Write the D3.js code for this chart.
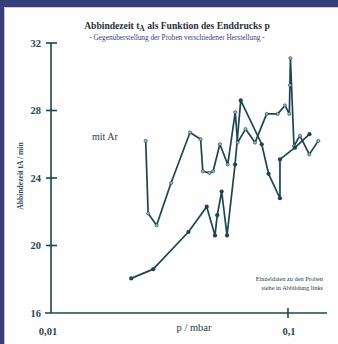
<!DOCTYPE html>
<html><head><meta charset="utf-8">
<script src="https://cdn.jsdelivr.net/npm/d3@7"></script>
<style>html,body{margin:0;padding:0;background:#fff;}svg{display:block;}</style>
</head><body>
<script>
// Data
const pressureAr = [0.0251, 0.0257, 0.0279, 0.0321, 0.0386, 0.0428, 0.0437, 0.0466, 0.0483, 0.0516, 0.0557, 0.0599, 0.0613, 0.0662, 0.0726, 0.0813, 0.0905, 0.0971, 0.1013, 0.1019, 0.1024, 0.1060, 0.1124, 0.1230, 0.1342];
const timeAr = [26.2, 21.9, 21.2, 23.7, 26.7, 26.3, 24.4, 24.3, 24.4, 26.0, 24.8, 27.9, 26.1, 26.9, 26.1, 27.8, 27.8, 28.3, 27.8, 29.5, 31.1, 25.9, 26.5, 25.4, 26.2];
const pressureB = [0.0218, 0.0270, 0.0380, 0.0454, 0.0492, 0.0503, 0.0525, 0.0553, 0.0598, 0.0632, 0.0775, 0.0828, 0.0925, 0.0925, 0.1070, 0.1232];
const timeB = [18.05, 18.6, 20.8, 22.3, 20.6, 21.8, 23.2, 20.6, 24.8, 28.6, 26.0, 24.25, 22.8, 25.1, 25.8, 26.6];
const yTicks = [16, 20, 24, 28, 32];
const xTicks = [0.01, 0.1];
const xTickLabels = ["0,01", "0,1"];

const W = 338, H = 344;
const svg = d3.select("body").append("svg").attr("width", W).attr("height", H);
const ink = "#1f4450";
const serif = "'Liberation Serif','DejaVu Serif',serif";

// frame
svg.append("rect").attr("x",0).attr("y",0).attr("width",W).attr("height",H).attr("fill","#fefefe");
svg.append("rect").attr("x",0).attr("y",0).attr("width",W).attr("height",7).attr("fill","#34407c");
svg.append("rect").attr("x",0).attr("y",0).attr("width",4).attr("height",H).attr("fill","#34407c");
svg.append("line").attr("x1",4.5).attr("x2",4.5).attr("y1",7).attr("y2",H).attr("stroke","#e8b0c0").attr("stroke-width",1);
svg.append("line").attr("x1",4).attr("x2",W).attr("y1",7.5).attr("y2",7.5).attr("stroke","#e8c0cc").attr("stroke-width",1);

const x = d3.scaleLog().domain([0.01, 0.1461]).range([51, 327]);
const y = d3.scaleLinear().domain([16, 32]).range([313, 43]);

// axes
const ax = svg.append("g").attr("stroke", ink).attr("stroke-width", 1.6);
ax.append("line").attr("x1", x(0.01)).attr("x2", x(0.01)).attr("y1", y(32)).attr("y2", y(16));
ax.append("line").attr("x1", 45).attr("x2", x.range()[1]).attr("y1", y(16)).attr("y2", y(16));
ax.selectAll(".yt").data(yTicks.slice(1)).enter().append("line")
  .attr("x1", 46).attr("x2", 57).attr("y1", d => y(d)).attr("y2", d => y(d));
ax.selectAll(".xt").data(xTicks.slice(1)).enter().append("line")
  .attr("x1", d => x(d)).attr("x2", d => x(d)).attr("y1", y(16) - 5).attr("y2", y(16) + 5);

svg.selectAll(".yl").data(yTicks).enter().append("text")
  .attr("x", 41).attr("y", d => y(d) + 3.5).attr("text-anchor", "end")
  .attr("font-family", serif).attr("font-weight", "bold").attr("font-size", 10.5).attr("fill", "#2b4652")
  .text(d => d);
svg.selectAll(".xl").data(xTicks).enter().append("text")
  .attr("x", (d, i) => x(d) + (i === 0 ? -3 : 1)).attr("y", 335).attr("text-anchor", "middle")
  .attr("font-family", serif).attr("font-weight", "bold").attr("font-size", 10.5).attr("fill", "#2b4652")
  .text((d, i) => xTickLabels[i]);

svg.append("text").attr("x", 194).attr("y", 331).attr("text-anchor", "middle")
  .attr("font-family", serif).attr("font-size", 10.5).attr("fill", "#2b3a48").text("p / mbar");

svg.append("text").attr("transform", "translate(23,176) rotate(-90)").attr("text-anchor", "middle")
  .attr("font-family", serif).attr("font-weight", "bold").attr("font-size", 7.6).attr("fill", "#2b4652")
  .text("Abbindezeit tA / min");

// titles
const t = svg.append("text").attr("x", 177).attr("y", 29).attr("text-anchor", "middle")
  .attr("font-family", serif).attr("font-weight", "bold").attr("font-size", 9.6).attr("fill", "#2a2f3c");
t.append("tspan").text("Abbindezeit t");
t.append("tspan").attr("dy", 2).attr("font-size", 7.5).text("A");
t.append("tspan").attr("dy", -2).text(" als Funktion des Enddrucks p");
svg.append("text").attr("x", 177).attr("y", 40).attr("text-anchor", "middle")
  .attr("font-family", serif).attr("font-size", 7.3).attr("fill", "#3a3d80")
  .text("- Gegenüberstellung der Proben verschiedener Herstellung -");

svg.append("text").attr("x", 92).attr("y", 140).attr("font-family", serif).attr("font-size", 10)
  .attr("fill", "#2b3a48").text("mit Ar");

svg.append("text").attr("x", 323).attr("y", 281).attr("text-anchor", "end")
  .attr("font-family", serif).attr("font-size", 6.3).attr("fill", "#2b3a48").text("Einzeldaten zu den Proben");
svg.append("text").attr("x", 323).attr("y", 290).attr("text-anchor", "end")
  .attr("font-family", serif).attr("font-size", 6.3).attr("fill", "#2b3a48").text("siehe in Abbildung links");

// series
const line = d3.line().x(d => x(d[0])).y(d => y(d[1]));
const dataAr = pressureAr.map((p, i) => [p, timeAr[i]]);
const dataB = pressureB.map((p, i) => [p, timeB[i]]);

svg.append("path").datum(dataAr).attr("d", line).attr("fill", "none").attr("stroke", ink).attr("stroke-width", 1.7).attr("stroke-linejoin", "round");
svg.append("path").datum(dataB).attr("d", line).attr("fill", "none").attr("stroke", ink).attr("stroke-width", 1.7).attr("stroke-linejoin", "round");

svg.selectAll(".ma").data(dataAr).enter().append("circle")
  .attr("cx", d => x(d[0])).attr("cy", d => y(d[1])).attr("r", 1.6)
  .attr("fill", "#9fb4b8").attr("stroke", ink).attr("stroke-width", 0.6);
svg.selectAll(".mb").data(dataB).enter().append("circle")
  .attr("cx", d => x(d[0])).attr("cy", d => y(d[1])).attr("r", 2.1)
  .attr("fill", ink);
</script>
</body></html>
